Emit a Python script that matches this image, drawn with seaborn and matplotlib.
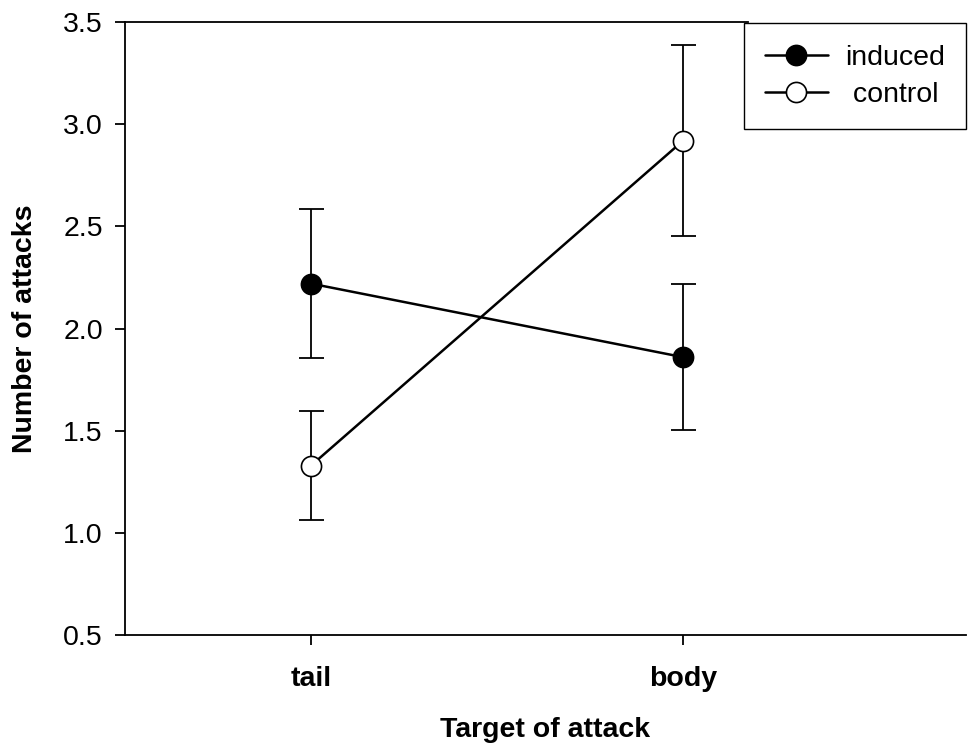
import matplotlib
matplotlib.use("Agg")
import matplotlib.pyplot as plt
import seaborn as sns
import pandas as pd

# Mean number of attacks (± SE) per target region, for each treatment
targets = ["tail", "body"]
groups = ["induced", " control"]
induced_mean = [2.22, 1.86]
induced_se = [0.365, 0.357]
control_mean = [1.33, 2.92]
control_se = [0.267, 0.467]

sns.set_theme(style="white")
plt.rcParams["font.family"] = ["Liberation Sans", "DejaVu Sans"]
plt.rcParams["text.color"] = "black"
plt.rcParams["axes.labelcolor"] = "black"

fig = plt.figure(figsize=(9.69, 7.49), dpi=100)
ax = fig.add_axes([0.129, 0.152, 0.868, 0.8186])

pos = [1, 2]
series = [
    (groups[0], induced_mean, induced_se, "black"),
    (groups[1], control_mean, control_se, "white"),
]

for name, means, ses, face in series:
    df = pd.DataFrame({"pos": pos, "mean": means, "target": targets})
    ax.errorbar(df["pos"], df["mean"], yerr=ses, fmt="none", ecolor="black",
                elinewidth=1.3, capsize=9, capthick=1.3, zorder=2)
    sns.lineplot(data=df, x="pos", y="mean", ax=ax, color="black", lw=1.8,
                 marker="o", markersize=14.5, markerfacecolor=face,
                 markeredgecolor="black", markeredgewidth=1.2,
                 label=name, zorder=3, legend=False)

ax.set_xlim(0.5, 2.76)
ax.set_ylim(0.5, 3.5)
ax.set_xticks(pos)
ax.set_xticklabels(targets, fontsize=20.5, fontweight="bold")
ax.set_yticks([0.5, 1.0, 1.5, 2.0, 2.5, 3.0, 3.5])
ax.set_yticklabels(["0.5", "1.0", "1.5", "2.0", "2.5", "3.0", "3.5"], fontsize=20.5)
ax.tick_params(axis="both", direction="out", length=7, width=1.3,
               color="black", labelcolor="black", bottom=True, left=True)
ax.tick_params(axis="x", pad=15)
ax.tick_params(axis="y", pad=9)

ax.set_xlabel("Target of attack", fontsize=20.5, fontweight="bold", labelpad=18)
ax.set_ylabel("Number of attacks", fontsize=20.5, fontweight="bold", labelpad=18)

for side in ["left", "bottom", "top"]:
    ax.spines[side].set_visible(True)
    ax.spines[side].set_color("black")
    ax.spines[side].set_linewidth(1.3)
ax.spines["right"].set_visible(False)
ax.spines["top"].set_bounds(0.5, 2.175)

leg = ax.legend(loc="upper right", bbox_to_anchor=(1.0, 0.998), fontsize=20.5,
                frameon=True, fancybox=False, edgecolor="black", framealpha=1,
                handlelength=2.2, handletextpad=0.6, borderpad=0.75,
                labelspacing=0.4, borderaxespad=0)
leg.get_frame().set_linewidth(1.0)
for t in leg.get_texts():
    t.set_color("black")

fig.savefig("out.png", dpi=100)
